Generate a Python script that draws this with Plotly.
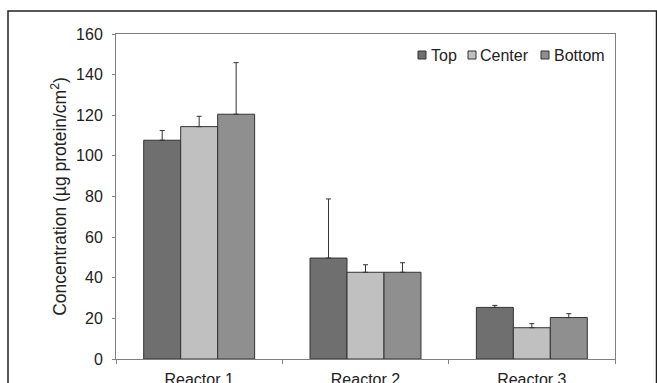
import plotly.graph_objects as go

categories = ["Reactor 1", "Reactor 2", "Reactor 3"]
series_names = ["Top", "Center", "Bottom"]
top_vals = [107.7, 49.7, 25.4]
top_err = [4.8, 29.1, 1.0]
center_vals = [114.4, 42.7, 15.4]
center_err = [5.1, 3.7, 2.0]
bottom_vals = [120.5, 42.7, 20.4]
bottom_err = [25.4, 4.7, 1.9]
colors = ["#6f6f6f", "#c0c0c0", "#8f8f8f"]
y_ticks = [0, 20, 40, 60, 80, 100, 120, 140, 160]

# plot area in pixels: x 116..615, y 34..359
L, R, T, B = 116, 615, 34, 359
def px(x):
    return (x - L) / (R - L)
def py(y):
    return (B - y) / (B - T)

fig = go.Figure()
for name, vals, errs, col in zip(series_names, [top_vals, center_vals, bottom_vals],
                                 [top_err, center_err, bottom_err], colors):
    fig.add_trace(go.Bar(
        x=categories, y=vals, name=name,
        marker=dict(color=col, line=dict(color="#333333", width=1)),
        error_y=dict(type="data", array=errs, symmetric=False, arrayminus=[0]*len(errs),
                     color="#333333", thickness=1, width=2.5),
    ))

font = "Liberation Sans, Arial, sans-serif"

# manual legend (compact squares like the reference)
legend_sq_x = [418, 468, 541]
legend_txt_x = [429, 478, 552]
shapes = [dict(type="rect", xref="paper", yref="paper",
               x0=px(8), x1=px(656.5), y0=py(400), y1=py(11),
               line=dict(color="#222222", width=1.5), fillcolor="rgba(0,0,0,0)",
               layer="below")]
annotations = []
for name, col, sx, tx in zip(series_names, colors, legend_sq_x, legend_txt_x):
    shapes.append(dict(type="rect", xref="paper", yref="paper",
                       x0=px(sx), x1=px(sx + 8), y0=py(59), y1=py(51),
                       line=dict(color="#333333", width=1), fillcolor=col))
    annotations.append(dict(text=name, xref="paper", yref="paper", x=px(tx), y=py(55),
                            xanchor="left", yanchor="middle", showarrow=False,
                            font=dict(size=16, color="#222222")))

fig.update_layout(
    width=657, height=383,
    margin=dict(l=L, r=657 - R, t=T, b=383 - B, autoexpand=False),
    paper_bgcolor="white", plot_bgcolor="white",
    barmode="group", bargap=0.333, bargroupgap=0,
    font=dict(family=font, size=16, color="#222222"),
    showlegend=False,
    xaxis=dict(type="category", showline=True, linecolor="#808080", linewidth=1,
               mirror=True, ticks="outside", tickson="boundaries", ticklen=4,
               tickcolor="#808080", showgrid=False, tickfont=dict(size=16),
               ticklabelstandoff=6, automargin=False),
    yaxis=dict(range=[0, 160], tickvals=y_ticks, showline=True, linecolor="#808080",
               linewidth=1, mirror=True, ticks="outside", ticklen=3, tickcolor="#808080",
               showgrid=False, zeroline=False, tickfont=dict(size=16),
               ticklabelstandoff=6, automargin=False,
               title=dict(text="Concentration (µg protein/cm<sup>2</sup>)", font=dict(size=17.5),
                          standoff=4)),
    shapes=shapes,
    annotations=annotations,
)
fig.write_html("out.html")
